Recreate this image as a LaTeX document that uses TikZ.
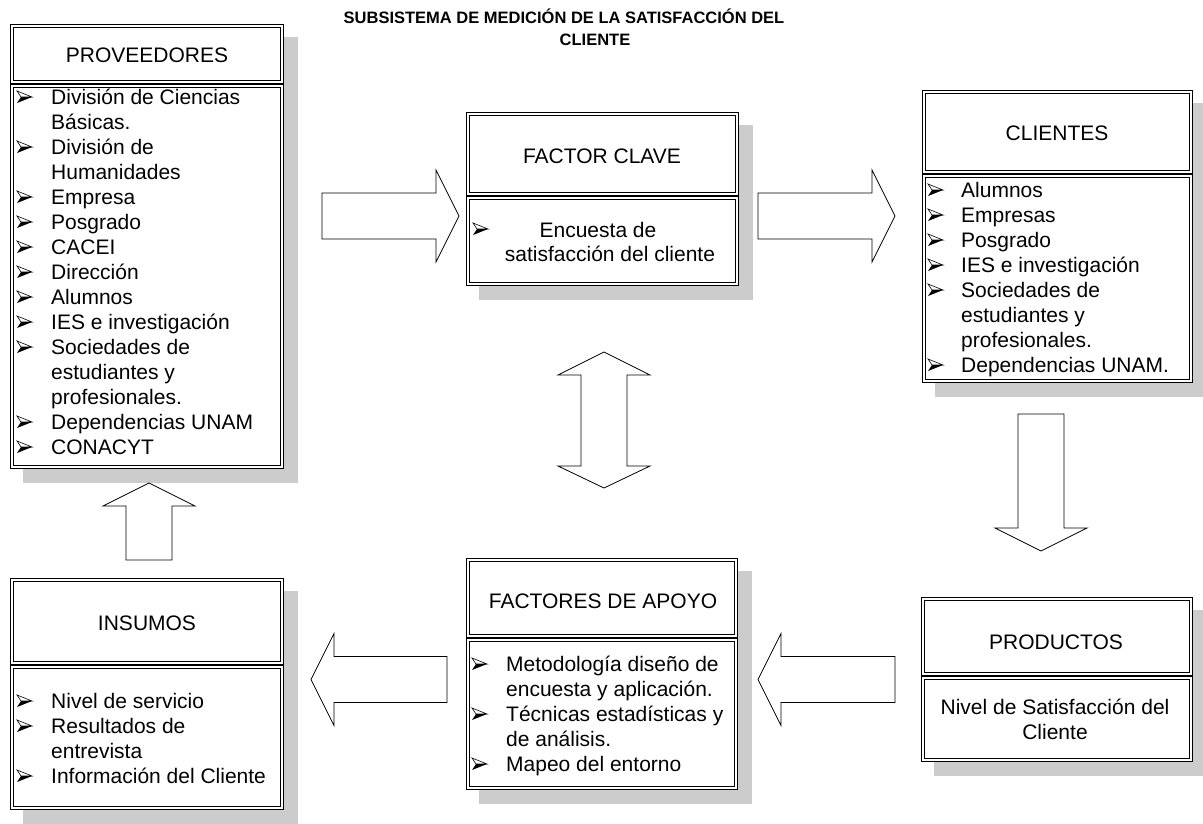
\documentclass[tikz,border=0pt]{standalone}
\usepackage{fontspec}
\setmainfont{Liberation Sans}

% one framed panel with a heavier outer rule and a lighter inner rule
% arguments: left, top, right, bottom
\newcommand{\framedpanel}[4]{%
  \draw[outerrule] ({#1+0.7},{#2+0.7}) rectangle ({#3-0.7},{#4-0.7});
  \draw[innerrule] ({#1+3.4},{#2+3.4}) rectangle ({#3-3.4},{#4-3.4});
}
% shadowed box made of a header panel and a body panel
% arguments: left, top, split (header bottom), bottom, right
\newcommand{\twopartbox}[5]{%
  \fill[boxshadow] ({#1+13},{#2+13}) rectangle ({min(#5+14,1203)},{#4+14});
  \framedpanel{#1}{#2}{#5}{#3}
  \framedpanel{#1}{#3}{#5}{#4}
}

\begin{document}
\begin{tikzpicture}[x=1pt,y=-1pt,
  boxshadow/.style={fill=black!20},
  outerrule/.style={draw=black, line width=1.3pt, fill=white},
  innerrule/.style={draw=black, line width=0.7pt},
  titletext/.style={anchor=base, inner sep=0pt, font=\fontsize{16.5}{20}\selectfont\bfseries},
  headtext/.style={anchor=base, inner sep=0pt, font=\fontsize{21}{25}\selectfont},
  item/.style={anchor=base west, inner sep=0pt, font=\fontsize{21}{25}\selectfont},
  centeritem/.style={anchor=base, inner sep=0pt, font=\fontsize{21}{25}\selectfont},
  arrowline/.style={draw=black, line width=0.8pt, fill=white, line join=miter},
  % three-dimensional arrowhead bullet, origin at its left end
  pics/bul/.style={code={
    \draw[line width=0.6pt, fill=white, line join=miter] (0,-6) -- (15,0) -- (4,0) -- cycle;
    \fill[black] (4,0) -- (15,0) -- (0,6) -- cycle;
  }},
  % hollow block arrow pointing along +x, origin at the middle of its tail
  pics/barrow/.style={code={
    \draw[arrowline] (0,-23) -- ({#1-23},-23) -- ({#1-23},-46) -- (#1,0)
      -- ({#1-23},46) -- ({#1-23},23) -- (0,23) -- cycle;
  }}
]
\useasboundingbox (0,0) rectangle (1203,823);
\fill[white] (0,0) rectangle (1203,823);

% title
\node[titletext] (title1) at (564,23) {SUBSISTEMA DE MEDICIÓN DE LA SATISFACCIÓN DEL};
\node[titletext] (title2) at (595,45) {CLIENTE};

% boxes
\twopartbox{10}{24}{84}{469}{284}     % proveedores
\twopartbox{466}{112}{196}{286}{739}  % factor clave
\twopartbox{922}{90}{174}{383}{1193}  % clientes
\twopartbox{10}{578}{665}{810}{284}   % insumos
\twopartbox{466}{558}{638}{790}{738}  % factores de apoyo
\twopartbox{921}{597}{676}{762}{1193} % productos

% headers
\node[headtext] (provT)  at (147,62.5)   {PROVEEDORES};
\node[headtext] (claveT) at (602,163)    {FACTOR CLAVE};
\node[headtext] (cliT)   at (1057,140.5) {CLIENTES};
\node[headtext] (insT)   at (147,630)    {INSUMOS};
\node[headtext] (apoyoT) at (603,608)    {FACTORES DE APOYO};
\node[headtext] (prodT)  at (1056,649)   {PRODUCTOS};

% proveedores list
\foreach \txt/\bb [count=\i from 0] in {División de Ciencias/1, Básicas./0, División de/1,
    Humanidades/0, Empresa/1, Posgrado/1, CACEI/1, Dirección/1, Alumnos/1,
    IES e investigación/1, Sociedades de/1, estudiantes y/0, profesionales./0,
    Dependencias UNAM/1, CONACYT/1}{
  \node[item] (prov\i) at (51,{97+25*\i+7.5}) {\txt};
  \ifnum\bb=1 \pic at (17,{97+25*\i}) {bul};\fi
}

% clientes list
\foreach \txt/\bb [count=\i from 0] in {Alumnos/1, Empresas/1, Posgrado/1,
    IES e investigación/1, Sociedades de/1, estudiantes y/0, profesionales./0,
    Dependencias UNAM./1}{
  \node[item] (cli\i) at (961,{190+25*\i+7.5}) {\txt};
  \ifnum\bb=1 \pic at (928,{190+25*\i}) {bul};\fi
}

% insumos list
\foreach \txt/\bb [count=\i from 0] in {Nivel de servicio/1, Resultados de/1,
    entrevista/0, Información del Cliente/1}{
  \node[item] (ins\i) at (51,{701+25*\i+7.5}) {\txt};
  \ifnum\bb=1 \pic at (17,{701+25*\i}) {bul};\fi
}

% factores de apoyo list
\foreach \txt/\bb [count=\i from 0] in {Metodología diseño de/1, encuesta y aplicación./0,
    Técnicas estadísticas y/1, de análisis./0, Mapeo del entorno/1}{
  \node[item] (apoyo\i) at (506,{664+25*\i+7.5}) {\txt};
  \ifnum\bb=1 \pic at (472,{664+25*\i}) {bul};\fi
}

% factor clave body
\pic at (473,229) {bul};
\node[centeritem] (clave1) at (598,237.5) {Encuesta de};
\node[centeritem] (clave2) at (610,261.5) {satisfacción del cliente};

% productos body
\node[centeritem] (prod1) at (1055,714.5) {Nivel de Satisfacción del};
\node[centeritem] (prod2) at (1055,739.5) {Cliente};

% block arrows
\pic at (322,216) {barrow=137};
\pic at (758,216) {barrow=137};
\pic[rotate=-90] at (1041,414) {barrow=137};
\pic[rotate=180] at (895,679.5) {barrow=137};
\pic[rotate=180] at (447,679.5) {barrow=136};
\pic[rotate=90] at (149,560) {barrow=77};
\draw[arrowline] (604,352) -- (650,375) -- (627,375) -- (627,466) -- (650,466)
  -- (604,488) -- (558,466) -- (581,466) -- (581,375) -- (558,375) -- cycle;
\end{tikzpicture}
\end{document}
